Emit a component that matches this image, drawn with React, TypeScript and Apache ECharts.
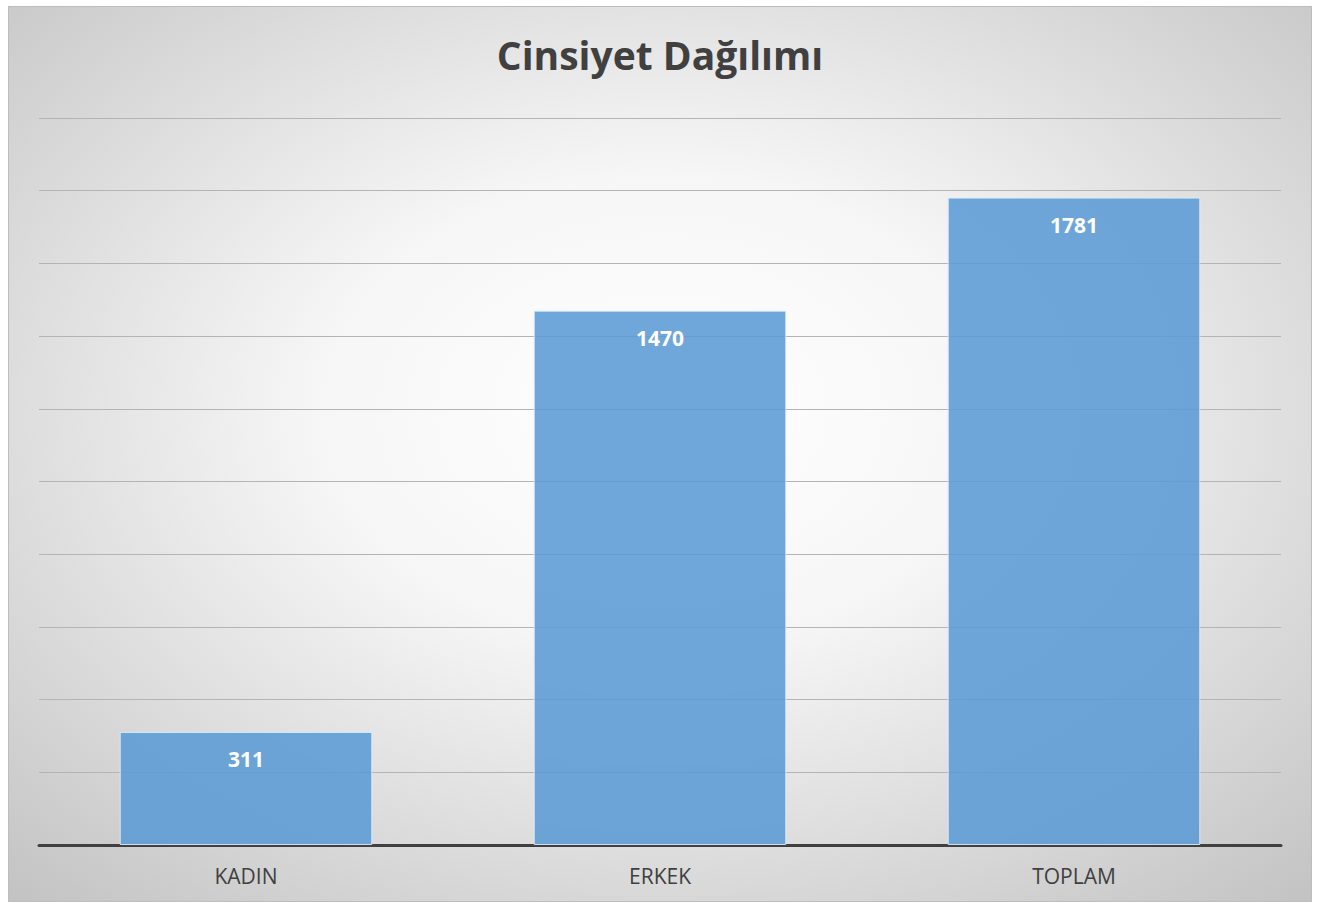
import React, { useEffect, useRef } from "react";
import * as echarts from "echarts";

const categories = ["KADIN", "ERKEK", "TOPLAM"];
const values = [311, 1470, 1781];
const yMin = 0;
const yMax = 2000;
const yInterval = 200;
const titleText = "Cinsiyet Dağılımı";

export default function App() {
  const ref = useRef<HTMLDivElement>(null);
  useEffect(() => {
    if (!ref.current) return;
    const chart = echarts.init(ref.current, null, { renderer: "svg" });
    chart.setOption({
      animation: false,
      backgroundColor: {
        type: "radial",
        x: 0.5,
        y: 0.45,
        r: 0.75,
        colorStops: [
          { offset: 0, color: "#ffffff" },
          { offset: 0.35, color: "#f6f6f6" },
          { offset: 1, color: "#c2c2c2" },
        ],
      },
      title: {
        text: titleText,
        left: "center",
        top: 23,
        textStyle: {
          fontFamily: "Open Sans",
          fontWeight: "bold",
          fontSize: 39,
          color: "#404040",
        },
      },
      grid: { left: 30, right: 30, top: 111, bottom: 56, containLabel: false },
      xAxis: {
        type: "category",
        data: categories,
        axisLine: { lineStyle: { color: "#404040", width: 3 } },
        axisTick: { show: false },
        axisLabel: {
          fontFamily: "Open Sans",
          fontSize: 21,
          color: "#404040",
          margin: 20,
        },
      },
      yAxis: {
        type: "value",
        min: yMin,
        max: yMax,
        interval: yInterval,
        axisLine: { show: false },
        axisTick: { show: false },
        axisLabel: { show: false },
        splitLine: { lineStyle: { color: "#b4b4b4", width: 1 } },
      },
      series: [
        {
          type: "bar",
          data: values,
          barWidth: "61%",
          itemStyle: {
            color: "rgba(91,155,213,0.88)",
            borderColor: "rgba(220,235,250,0.9)",
            borderWidth: 1,
          },
          label: {
            show: true,
            position: "insideTop",
            distance: 17,
            color: "#ffffff",
            fontFamily: "Open Sans",
            fontWeight: "bold",
            fontSize: 21,
          },
        },
      ],
    });
    return () => chart.dispose();
  }, []);
  return (
    <div
      style={{
        position: "absolute",
        left: 8,
        top: 6,
        width: 1304,
        height: 896,
        boxSizing: "border-box",
        border: "1px solid #bdbdbd",
      }}
    >
      <div ref={ref} style={{ width: "100%", height: "100%" }} />
    </div>
  );
}
